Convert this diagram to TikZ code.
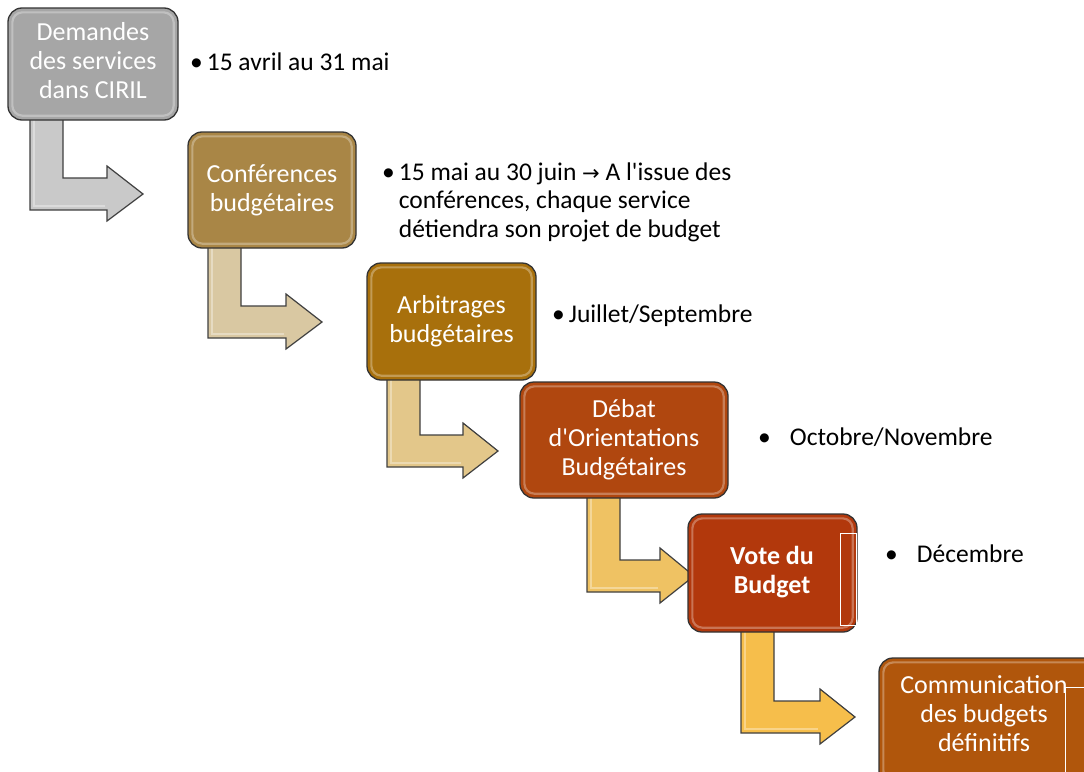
\documentclass[tikz,border=0pt]{standalone}
\usepackage{fontspec}
\setmainfont{Carlito}[Ligatures=TeXOff]
\newfontfamily\djv{DejaVu Sans}
\definecolor{cA}{HTML}{A6A6A6}
\definecolor{cB}{HTML}{A98646}
\definecolor{cC}{HTML}{A8700C}
\definecolor{cD}{HTML}{B0470F}
\definecolor{cE}{HTML}{B2380C}
\definecolor{cF}{HTML}{B0560C}
\definecolor{aA}{HTML}{C9C9C9}
\definecolor{aB}{HTML}{D9C8A2}
\definecolor{aC}{HTML}{E3C78A}
\definecolor{aD}{HTML}{EFC263}
\definecolor{aE}{HTML}{F6BE4B}
\newcommand\bentarr[6]{%
  \filldraw[arrowshape, fill=#1] (#2,#3) -- ++(33,0) |- (#5,#4-32) -- (#5,#4-44) -- (#6,#4-16) -- (#5,#4+11) -- (#5,#4) -- (#2,#4) -- cycle;
  \draw[white, opacity=0.35, line width=2pt] (#2+4,#3) -- (#2+4,#4-4) -- (#5-2,#4-4);}
\begin{document}
\begin{tikzpicture}[x=1pt,y=-1pt,
  stepbox/.style={draw=black!80, line width=1.3pt, rounded corners=14pt, inner sep=0pt},
  boxtext/.style={text=white, align=center, font=\fontsize{26}{29}\selectfont},
  arrowshape/.style={draw=black!75, line width=1.2pt, line join=miter},
  note/.style={anchor=west, inner sep=0pt, text=black, font=\fontsize{25.5}{28.5}\selectfont},
  gloss/.style={draw=white, opacity=0.3, line width=2.2pt, rounded corners=10pt}]
\useasboundingbox (0,0) rectangle (1084,771);
\clip (0,0) rectangle (1084,771);
\fill[white] (0,0) rectangle (1084,771);
% bent arrows
\bentarr{aA}{30}{118}{210}{107}{143}
\bentarr{aB}{208}{246}{338}{286}{322}
\bentarr{aC}{387}{378}{467}{463}{498}
\bentarr{aD}{587}{496}{592}{660}{694}
\bentarr{aE}{741}{630}{733}{820}{855}
% boxes
\node[stepbox, fill=cA, minimum width=170pt, minimum height=112pt] (b1) at (93,64) {};
\node[stepbox, fill=cB, minimum width=168pt, minimum height=116pt] (b2) at (272,190) {};
\node[stepbox, fill=cC, minimum width=169pt, minimum height=117pt] (b3) at (451.5,321.5) {};
\node[stepbox, fill=cD, minimum width=208pt, minimum height=116pt] (b4) at (624,440) {};
\node[stepbox, fill=cE, minimum width=169pt, minimum height=118pt] (b5) at (772.5,573) {};
\node[stepbox, fill=cF, minimum width=221pt, minimum height=127pt] (b6) at (989.5,721.5) {};
\foreach \b in {b1,b2,b3,b4,b5,b6}{
  \draw[gloss] ([shift={(5,5)}]\b.north west) rectangle ([shift={(-5,-5)}]\b.south east);
}
% box texts
\node[boxtext] (t1) at (93,61) {Demandes\\des services\\dans CIRIL};
\node[boxtext] (t2) at (272,190) {Conférences\\budgétaires};
\node[boxtext] (t3) at (451.5,321) {Arbitrages\\budgétaires};
\node[boxtext] (t4) at (624,440) {Débat\\d'Orientations\\Budgétaires};
\node[boxtext, font=\fontsize{26}{29}\selectfont\bfseries] (t5) at (772,572) {Vote du\\Budget};
\node[boxtext] (t6) at (984,714) {Communication\\des budgets\\définitifs};
% white artefact frames
\draw[white, line width=1pt] (840,533) rectangle (856,625);
\draw[white, line width=1pt] (1090,687) -- (1065,687) -- (1065,780);
% notes
\node[note] (n1) at (190,65) {\begin{tabular}{@{}l@{\hspace{4pt}}l@{}}•&15 avril au 31 mai\end{tabular}};
\node[note] (n2) at (382,203) {\begin{tabular}{@{}l@{\hspace{4pt}}l@{}}•&15 mai au 30 juin {\djv\fontsize{21}{28.5}\selectfont →} A l'issue des\\&conférences, chaque service\\&détiendra son projet de budget\end{tabular}};
\node[note] (n3) at (552,317) {\begin{tabular}{@{}l@{\hspace{4pt}}l@{}}•&Juillet/Septembre\end{tabular}};
\node[note] (n4) at (758,440) {\begin{tabular}{@{}l@{\hspace{19pt}}l@{}}•&Octobre/Novembre\end{tabular}};
\node[note] (n5) at (885,557) {\begin{tabular}{@{}l@{\hspace{19pt}}l@{}}•&Décembre\end{tabular}};
\end{tikzpicture}
\end{document}
